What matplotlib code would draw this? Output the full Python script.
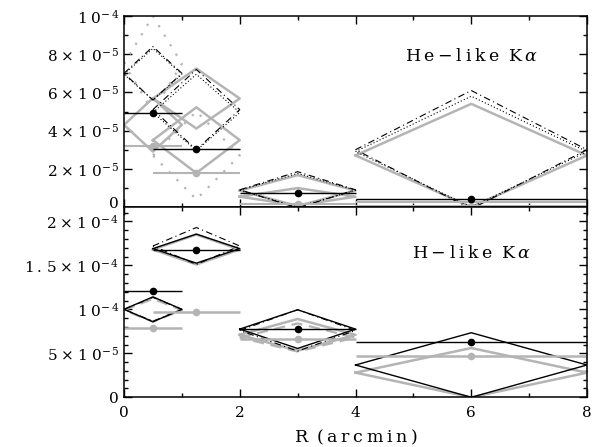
import matplotlib
matplotlib.use("Agg")
import matplotlib.pyplot as plt
import matplotlib.transforms as mtransforms
import numpy as np
from matplotlib.ticker import MultipleLocator, FixedLocator

plt.rcParams['font.family'] = ['DejaVu Serif']
plt.rcParams['mathtext.fontset'] = 'dejavuserif'

# radial bins (arcmin)
bin_lo = [0.0, 0.5, 2.0, 4.0]
bin_hi = [1.0, 2.0, 4.0, 8.0]
bin_mid = [0.5, 1.25, 3.0, 6.0]

# ---- He-like K alpha (top panel) ----
he_black_obs = [4.9e-5, 3.05e-5, 0.75e-5, 0.42e-5]
he_gray_obs = [3.2e-5, 1.76e-5, 0.18e-5, 0.07e-5]
he_gray_obs2 = [np.nan, np.nan, np.nan, 0.25e-5]
# model diamonds: centre / half-height
he_bdash_c = [7.0e-5, 5.1e-5, 0.90e-5, 3.0e-5]
he_bdash_h = [1.4e-5, 2.1e-5, 0.95e-5, 3.1e-5]
he_bdot_c = [6.95e-5, 4.95e-5, 0.88e-5, 2.9e-5]
he_bdot_h = [1.35e-5, 2.0e-5, 0.88e-5, 2.9e-5]
he_gray1_c = [4.3e-5, 5.68e-5, 0.86e-5, 2.7e-5]
he_gray1_h = [1.4e-5, 1.57e-5, 0.81e-5, 2.7e-5]
he_gray2_c = [np.nan, 3.5e-5, 0.54e-5, np.nan]
he_gray2_h = [np.nan, 1.72e-5, 0.45e-5, np.nan]
he_gdot_c = [7.5e-5, 2.7e-5, np.nan, np.nan]
he_gdot_h = [2.5e-5, 2.3e-5, np.nan, np.nan]

# ---- H-like K alpha (bottom panel) ----
h_black_obs = [1.21e-4, 1.67e-4, 0.776e-4, 0.63e-4]
h_gray_obs = [0.784e-4, 0.966e-4, 0.66e-4, 0.473e-4]
h_bsolid_c = [1.0e-4, 1.69e-4, 0.775e-4, 0.367e-4]
h_bsolid_h = [0.142e-4, 0.165e-4, 0.22e-4, 0.367e-4]
h_bdash_c = [1.0e-4, 1.72e-4, 0.76e-4, np.nan]
h_bdash_h = [0.135e-4, 0.21e-4, 0.235e-4, np.nan]
h_gray_c = [np.nan, 1.68e-4, 0.71e-4, 0.28e-4]
h_gray_h = [np.nan, 0.17e-4, 0.18e-4, 0.28e-4]
h_gdash_c = [0.99e-4, np.nan, 0.68e-4, np.nan]
h_gdash_h = [0.13e-4, np.nan, 0.16e-4, np.nan]

he_yticks = [0, 2e-5, 4e-5, 6e-5, 8e-5, 1e-4]
he_ylabels = ['0', r'$2\;{\times}\;1\;0^{-\,5}$', r'$4\;{\times}\;1\;0^{-\,5}$',
              r'$6\;{\times}\;1\;0^{-\,5}$', r'$8\;{\times}\;1\;0^{-\,5}$', r'$1\;0^{-\,4}$']
h_yticks = [0, 5e-5, 1e-4, 1.5e-4, 2e-4]
h_ylabels = ['0', r'$5\;{\times}\;1\;0^{-\,5}$', r'$1\;0^{-\,4}$',
             r'$1\,.\,5\;{\times}\;1\;0^{-\,4}$', r'$2\;{\times}\;1\;0^{-\,4}$']
x_ticks = [0, 2, 4, 6, 8]

GRAY = '#b4b4b4'

fig = plt.figure(figsize=(5.93, 4.47), dpi=100)
ax1 = fig.add_axes([0.2091, 0.5369, 0.7808, 0.4273])
ax2 = fig.add_axes([0.2091, 0.1112, 0.7808, 0.4257])


def diamonds(ax, cs, hs, **kw):
    for lo, mid, hi, c, h in zip(bin_lo, bin_mid, bin_hi, cs, hs):
        if np.isnan(c):
            continue
        ax.plot([lo, mid, hi, mid, lo], [c, c + h, c, c - h, c], **kw)


def obs(ax, ys, color, lw, ms):
    for lo, mid, hi, y in zip(bin_lo, bin_mid, bin_hi, ys):
        if np.isnan(y):
            continue
        ax.plot([lo, hi], [y, y], color=color, lw=lw, solid_capstyle='butt')
        if ms > 0:
            ax.plot([mid], [y], 'o', color=color, ms=ms)


# top panel
diamonds(ax1, he_gdot_c, he_gdot_h, color=GRAY, lw=1.6, ls=(0, (1, 4)))
diamonds(ax1, he_gray1_c, he_gray1_h, color=GRAY, lw=1.8)
diamonds(ax1, he_gray2_c, he_gray2_h, color=GRAY, lw=1.8)
diamonds(ax1, he_bdot_c, he_bdot_h, color='black', lw=0.8, ls=(0, (1, 2)))
diamonds(ax1, he_bdash_c, he_bdash_h, color='black', lw=0.8, ls=(0, (6, 3, 1, 3)))
obs(ax1, he_gray_obs, GRAY, 1.5, 4.5)
obs(ax1, he_gray_obs2, GRAY, 1.5, 0)
obs(ax1, he_black_obs, 'black', 1.0, 4.5)

# bottom panel
diamonds(ax2, h_gray_c, h_gray_h, color=GRAY, lw=1.8)
diamonds(ax2, h_gdash_c, h_gdash_h, color=GRAY, lw=1.6, ls=(0, (5, 3)))
diamonds(ax2, h_bdash_c, h_bdash_h, color='black', lw=0.8, ls=(0, (6, 3, 1, 3)))
diamonds(ax2, h_bsolid_c, h_bsolid_h, color='black', lw=1.0)
obs(ax2, h_gray_obs, GRAY, 1.8, 4.5)
obs(ax2, h_black_obs, 'black', 1.0, 4.5)

for ax in (ax1, ax2):
    ax.set_xlim(0, 8)
    ax.xaxis.set_major_locator(FixedLocator(x_ticks))
    ax.xaxis.set_minor_locator(MultipleLocator(1))
    ax.tick_params(which='both', direction='in', top=True, right=True,
                   labelsize=11, width=1.0, color='black')
    ax.tick_params(which='major', length=6)
    ax.tick_params(which='minor', length=3)
    for s in ax.spines.values():
        s.set_linewidth(1.1)

ax1.set_ylim(0, 1e-4)
ax1.set_yticks(he_yticks)
ax1.set_yticklabels(he_ylabels)
ax1.yaxis.set_minor_locator(MultipleLocator(1e-5))
ax1.tick_params(labelbottom=False)
ax1.text(6.0, 7.9e-5, r'$\mathrm{H\:e\:-\:l\:i\:k\:e\;\;K}\:\alpha$', fontsize=12.5,
         va='center', ha='center')
# nudge the lowest label of the upper panel up a little so it clears the panel below
zero_lab = ax1.get_yticklabels()[0]
zero_lab.set_transform(zero_lab.get_transform() +
                       mtransforms.ScaledTranslation(0, 3 / 72, fig.dpi_scale_trans))

ax2.set_ylim(0, 2.163e-4)
ax2.set_yticks(h_yticks)
ax2.set_yticklabels(h_ylabels)
ax2.yaxis.set_minor_locator(MultipleLocator(1e-5))
ax2.set_xticklabels([str(v) for v in x_ticks])
ax2.tick_params(axis='x', pad=6)
ax2.text(6.0, 1.64e-4, r'$\mathrm{H\:-\:l\:i\:k\:e\;\;K}\:\alpha$', fontsize=12.5,
         va='center', ha='center')
ax2.set_xlabel(r'$\mathrm{R\;\;(\:a\:r\:c\:m\:i\:n\:)}$', fontsize=12.5, labelpad=6)

fig.savefig('out.png', dpi=100)
